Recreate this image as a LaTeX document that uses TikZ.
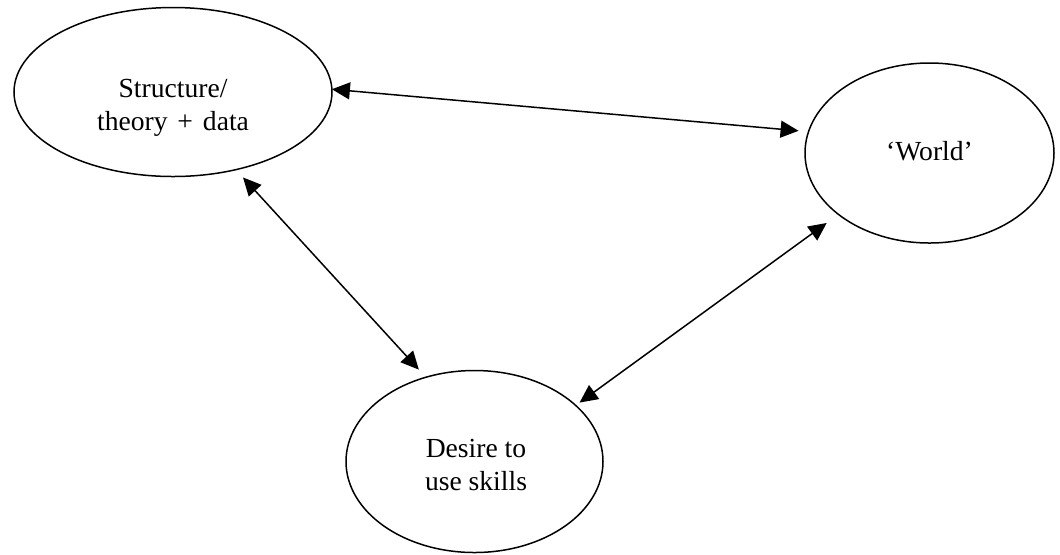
\documentclass[tikz,border=0pt]{standalone}
\usepackage{fontspec}
\setmainfont{Liberation Serif}
\usetikzlibrary{shapes.geometric,arrows.meta}
\begin{document}
\begin{tikzpicture}[x=0.5pt,y=-0.5pt,
  ell/.style={draw=black,line width=0.75pt,ellipse,inner sep=0pt,outer sep=0pt},
  txt/.style={align=center,font=\fontsize{13.8}{16.5}\selectfont,inner sep=0pt},
  conn/.style={{Triangle[length=9pt,width=8.5pt]}-{Triangle[length=9pt,width=8.5pt]},line width=0.75pt}]
\useasboundingbox (0,0) rectangle (1060,554);
\node[ell,minimum width=159pt,minimum height=84.5pt] (s) at (173,92) {};
\node[txt] (st) at (173,108) {Structure/\\theory\hspace{1.5pt} + \hspace{1.5pt}data};
\node[ell,minimum width=124.5pt,minimum height=90pt] (w) at (929.5,153) {};
\node[txt] (wt) at (929.5,151) {`World'};
\node[ell,minimum width=128.5pt,minimum height=91pt] (d) at (474.5,461.5) {};
\node[txt] (dt) at (476,465) {Desire to\\use skills};
\draw[conn,shorten >=5pt] (s.1.5) -- (w.170.9);
\draw[conn,shorten <=5.3pt,shorten >=5.2pt] (s.-51.3) -- (d.120.2);
\draw[conn,shorten <=2.4pt,shorten >=7.3pt] (d.29) -- (w.214.3);
\end{tikzpicture}
\end{document}
